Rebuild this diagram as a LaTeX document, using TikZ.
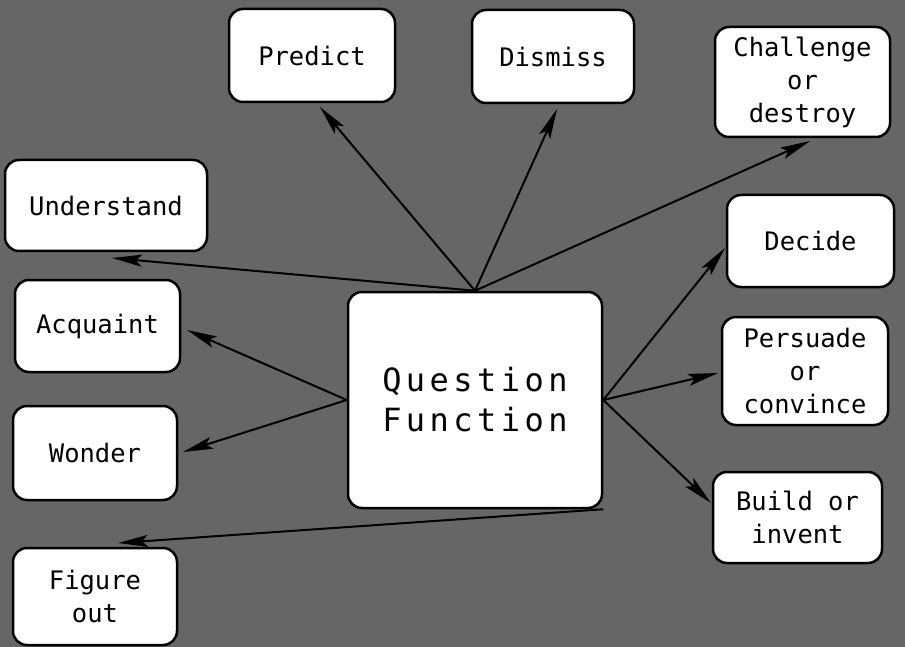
\documentclass[tikz,border=0pt]{standalone}
\usepackage{fontspec}
\newfontfamily\boxfont{DejaVu Sans Mono}
\newfontfamily\bigfont[LetterSpace=14]{DejaVu Sans Mono}
\usetikzlibrary{arrows.meta,calc}
\begin{document}
\begin{tikzpicture}[x=1pt,y=-1pt,
  box/.style={draw=black, line width=2.5pt, fill=white, rounded corners=14pt,
    inner sep=0pt, align=center, font=\boxfont\fontsize{25.5}{33}\selectfont},
  link/.style={line width=2pt, -{Stealth[length=30pt,width=12pt,inset=6pt]}}]
\fill[black!60] (0,0) rectangle (905,647);
\useasboundingbox (0,0) rectangle (905,647);
% boxes
\node[box, minimum width=166pt, minimum height=93pt] (predict) at (312,55.5) {Predict};
\node[box, minimum width=162pt, minimum height=93pt] (dismiss) at (553,56.5) {Dismiss};
\node[box, minimum width=175pt, minimum height=110pt] (challenge) at (802.5,82) {Challenge\\or\\destroy};
\node[box, minimum width=202pt, minimum height=91pt] (understand) at (106,205.5) {Understand};
\node[box, minimum width=165pt, minimum height=92pt] (acquaint) at (97.5,326) {Acquaint};
\node[box, minimum width=164pt, minimum height=94pt] (wonder) at (95,453) {Wonder};
\node[box, minimum width=164pt, minimum height=97pt] (figure) at (95,596.5) {Figure\\out};
\node[box, minimum width=254pt, minimum height=216pt, font=\bigfont\fontsize{32}{40}\selectfont] (qf) at (475,400) {Question\\Function};
\node[box, minimum width=167pt, minimum height=92pt] (decide) at (810.5,241) {Decide};
\node[box, minimum width=166pt, minimum height=108pt] (persuade) at (805,371) {Persuade\\or\\convince};
\node[box, minimum width=169pt, minimum height=91pt] (build) at (797.5,517.5) {Build or\\invent};
% arrow tips
\coordinate (tPredict) at (320,107);
\coordinate (tDismiss) at (557,109);
\coordinate (tChallenge) at (810,141);
\coordinate (tUnderstand) at (112,258);
\coordinate (tAcquaint) at (187,330);
\coordinate (tWonder) at (183,452);
\coordinate (tFigure) at (118,543);
\coordinate (tDecide) at (725,248);
\coordinate (tPersuade) at (718,373);
\coordinate (tBuild) at (711,503);
% connectors
\draw[link] (qf.north) -- (tPredict);
\draw[link] (qf.north) -- (tDismiss);
\draw[link] (qf.north) -- (tChallenge);
\draw[link] (qf.north) -- (tUnderstand);
\draw[link] (qf.west) -- (tAcquaint);
\draw[link] (qf.west) -- (tWonder);
\draw[link] (qf.south east) -- (tFigure);
\draw[link] (qf.east) -- (tDecide);
\draw[link] (qf.east) -- (tPersuade);
\draw[link] (qf.east) -- (tBuild);
\end{tikzpicture}
\end{document}
